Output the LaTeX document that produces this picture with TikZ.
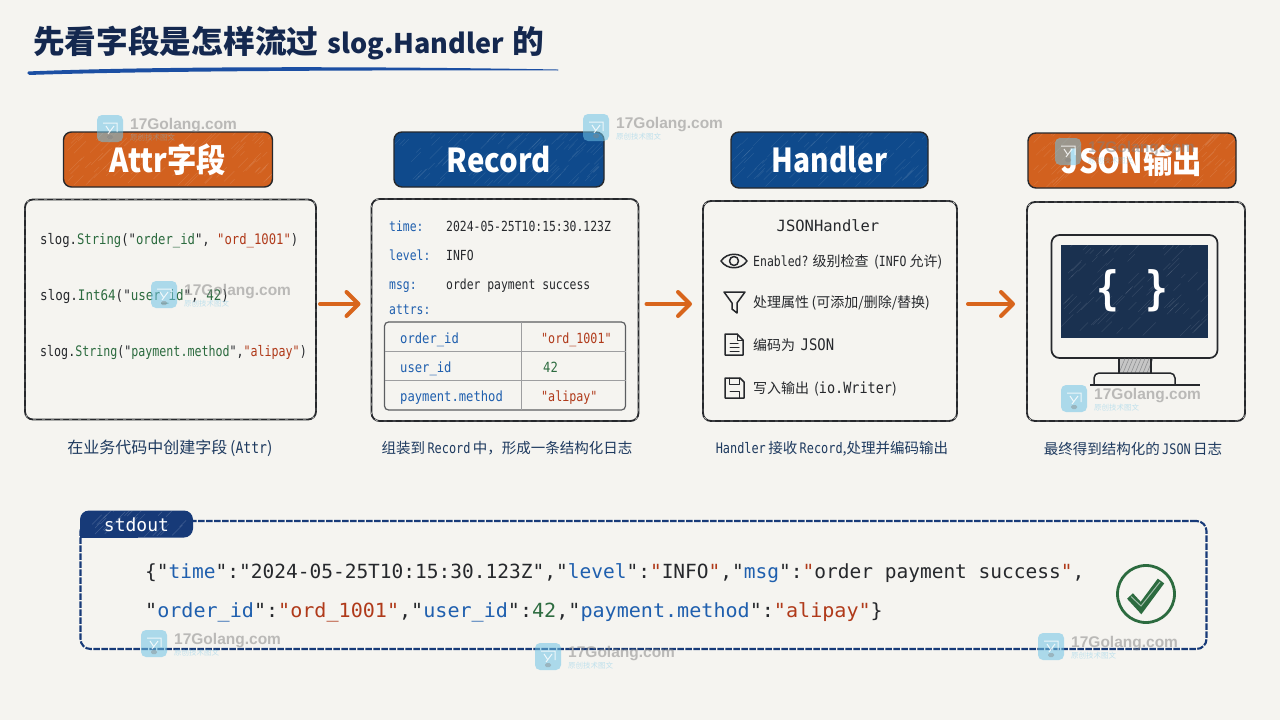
\documentclass[tikz,border=0pt]{standalone}
\usepackage{fontspec}
\usepackage{graphicx}
\usetikzlibrary{calc,arrows.meta,decorations.pathmorphing}
\setmainfont{Noto Sans CJK SC}
\newfontfamily\cjk{Noto Sans CJK SC}
\newfontfamily\headfont[FakeStretch=.89]{Noto Sans CJK SC}
\newfontfamily\codefont[FakeStretch=.82]{DejaVu Sans Mono}
\newfontfamily\tablefont[FakeStretch=.87]{DejaVu Sans Mono}
\newfontfamily\jsonfont{DejaVu Sans Mono}
\newfontfamily\markfont{Liberation Sans}
\definecolor{paper}{HTML}{F5F4F0}
\definecolor{ink}{HTML}{26282C}
\definecolor{titleink}{HTML}{14284F}
\definecolor{swoosh}{HTML}{1C4FA3}
\definecolor{orangehd}{HTML}{D2611F}
\definecolor{bluehd}{HTML}{0F4A8C}
\definecolor{navy}{HTML}{173A78}
\definecolor{capnavy}{HTML}{1E3A5F}
\definecolor{keyblue}{HTML}{1F5FAE}
\definecolor{strgreen}{HTML}{2C6B3F}
\definecolor{strred}{HTML}{B03A1A}
\definecolor{arrowor}{HTML}{D8651C}
\definecolor{screen}{HTML}{1A3150}
\definecolor{stampblue}{HTML}{6FC3E6}
\newcommand{\kb}[1]{\textcolor{keyblue}{#1}}
\newcommand{\gr}[1]{\textcolor{strgreen}{#1}}
\newcommand{\rd}[1]{\textcolor{strred}{#1}}
\newcommand{\fsz}[1]{\fontsize{#1}{#1}\selectfont}
% Short diagonal pen strokes scattered over a filled shape
\newcommand{\penstrokes}[2]{%
  \coordinate (psw) at (path picture bounding box.south west);
  \coordinate (pne) at (path picture bounding box.north east);
  \foreach \k in {1,...,#1}{%
    \pgfmathsetmacro\ra{rnd}\pgfmathsetmacro\rb{rnd}\pgfmathsetmacro\rc{4+9*rnd}
    \coordinate (pa) at ($(psw)!\ra!(psw -| pne)$);
    \coordinate (pb) at ($(psw)!\rb!(psw |- pne)$);
    \draw[white,opacity=#2,line width=.5pt] (pa |- pb) -- ++(\rc,-\rc);
  }}
% Site stamp: icon plus two lines of text
\newcommand{\stamp}[3]{%
  \begin{scope}[shift={(#2,#3)}]
    \fill[rounded corners=5pt,fill=stampblue,opacity=.55] (0,0) rectangle (26,27);
    \draw[white,opacity=.8,line width=1pt] (6,8) -- (20,8) -- (20,17) (9,11) -- (13,17) (17,11) -- (11,19);
    \fill[gray,opacity=.4,rounded corners=1.5pt] (10,20) rectangle (16,24);
    \node[anchor=west,inner sep=0pt,text=gray,opacity=.5,font=\markfont\bfseries\fsz{15.5}] (#1a) at (33,11) {17Golang.com};
    \node[anchor=west,inner sep=0pt,text=stampblue,opacity=.4,font=\cjk\fsz{7.5}] (#1b) at (33,23) {原创技术图文};
  \end{scope}}
\tikzset{
  boxcell/.style={rectangle,inner sep=0pt,outer sep=0pt},
  header/.style={boxcell,draw=ink,line width=1.4pt,rounded corners=8pt,text=white,
    font=\headfont\bfseries\fsz{33}},
  orangebar/.style={header,fill=orangehd,path picture={\penstrokes{110}{.11}}},
  bluebar/.style={header,fill=bluehd,path picture={\penstrokes{110}{.1}}},
  panel/.style={boxcell,draw=ink,line width=1.8pt,rounded corners=8pt,
    postaction={draw=paper,line width=.4pt,dash pattern=on 3pt off 6pt}},
  codeline/.style={anchor=base west,inner sep=0pt,text=ink,font=\codefont\fsz{14.5}},
  recline/.style={anchor=base west,inner sep=0pt,text=ink,font=\codefont\fsz{13.9}},
  cellline/.style={anchor=base west,inner sep=0pt,text=ink,font=\tablefont\fsz{14}},
  itemline/.style={anchor=base west,inner sep=0pt,text=ink,font=\cjk\fsz{14}},
  captionline/.style={anchor=base,inner sep=0pt,text=capnavy,font=\cjk\fsz{14.5}},
  jsonline/.style={anchor=base west,inner sep=0pt,text=ink,font=\jsonfont\fsz{19.5}},
  flowarrow/.style={draw=arrowor,line width=4pt,line cap=round,
    -{Straight Barb[length=12pt,width=24pt,line width=4pt,round]}},
  glyph/.style={draw=ink,line width=1.5pt,line join=round,line cap=round},
}
\begin{document}
\begin{tikzpicture}[x=1pt,y=-1pt]
\pgfmathsetseed{17}
\useasboundingbox[fill=paper] (0,0) rectangle (1280,720);

% Title and brush underline
\node[anchor=base west,inner sep=0pt,text=titleink,font=\cjk\bfseries\fsz{31.7}] (title) at (33,53)
  {先看字段是怎样流过\hspace{9pt}{\fsz{27}slog.Handler}\hspace{9pt}的};
\fill[swoosh,rounded corners=1.5pt] (27,71.5) .. controls (150,66.5) and (350,66) .. (558,69.5)
  -- (558,70.5) .. controls (350,70) and (150,71) .. (28,75) -- cycle;

% Column headers
\node[orangebar,minimum width=209pt,minimum height=55pt] (hattr) at (168,159.5) {Attr字段};
\node[bluebar,minimum width=210pt,minimum height=55pt] (hrec) at (499,159.5) {Record};
\node[bluebar,minimum width=197pt,minimum height=56pt] (hhand) at (829.5,160) {\scalebox{.96}[1]{Handler}};
\node[orangebar,minimum width=208pt,minimum height=55pt] (hjson) at (1132,160.5) {JSON输出};

% Panels
\node[panel,minimum width=291pt,minimum height=220pt] (attr) at (170.5,309.5) {};
\node[panel,minimum width=267pt,minimum height=222pt] (rec) at (505,310) {};
\node[panel,minimum width=254pt,minimum height=220pt] (hand) at (830,311) {};
\node[panel,minimum width=218pt,minimum height=219pt] (json) at (1136,311.5) {};

% Flow between panels
\coordinate (flowy) at (0,304);
\draw[flowarrow,shorten <=4pt,shorten >=11pt] (attr.east |- flowy) -- (rec.west |- flowy);
\draw[flowarrow,shorten <=8pt,shorten >=11pt] (rec.east |- flowy) -- (hand.west |- flowy);
\draw[flowarrow,shorten <=11pt,shorten >=12pt] (hand.east |- flowy) -- (json.west |- flowy);

% Attr panel code
\node[codeline] (c1) at (40,244) {\scalebox{1.03}[1]{slog.\gr{String}("\gr{order\_id}", \rd{"ord\_1001"})}};
\node[codeline] (c2) at (40,300) {\scalebox{1.055}[1]{slog.\gr{Int64}("\gr{user\_id}", \gr{42})}};
\node[codeline] (c3) at (40,356) {\scalebox{.98}[1]{slog.\gr{String}("\gr{payment.method}",\rd{"alipay"})}};

% Record panel fields
\node[recline,text=keyblue] (rk1) at (389,231) {time:};
\node[recline] (rv1) at (446,231) {2024-05-25T10:15:30.123Z};
\node[recline,text=keyblue] (rk2) at (389,260) {level:};
\node[recline] (rv2) at (446,260) {INFO};
\node[recline,text=keyblue] (rk3) at (389,289) {msg:};
\node[recline] (rv3) at (446,289) {order payment success};
\node[recline,text=keyblue] (rk4) at (389,314) {attrs:};

% Attribute table
\node[boxcell,draw=ink!75,line width=1.2pt,rounded corners=4pt,minimum width=241pt,minimum height=88pt] (tbl) at (505,366) {};
\coordinate (rowa) at (0,351.5);
\coordinate (rowb) at (0,380.5);
\coordinate (colx) at (521,0);
\draw[ink!45,line width=1pt] (tbl.west |- rowa) -- (tbl.east |- rowa);
\draw[ink!45,line width=1pt] (tbl.west |- rowb) -- (tbl.east |- rowb);
\draw[ink!45,line width=1pt] (colx |- tbl.north) -- (colx |- tbl.south);
\node[cellline,text=keyblue] (k1) at (400,343) {order\_id};
\node[cellline,text=strred] (v1) at (541,343) {\scalebox{.96}[1]{"ord\_1001"}};
\node[cellline,text=keyblue] (k2) at (400,372) {user\_id};
\node[cellline,text=strgreen] (v2) at (543,372) {42};
\node[cellline,text=keyblue] (k3) at (400,401) {payment.method};
\node[cellline,text=strred] (v3) at (541,401) {\scalebox{.96}[1]{"alipay"}};

% Handler panel
\node[anchor=base,inner sep=0pt,text=ink,font=\jsonfont\fsz{15.5}] (jh) at (828,231.5) {JSONHandler};
\node[itemline] (i1) at (753,266) {{\codefont Enabled?} 级别检查 \,({\codefont INFO} 允许)};
\node[itemline] (i2) at (753,307) {处理属性\,(可添加/删除/替换)};
\node[itemline] (i3) at (753,350) {编码为\, {\tablefont\fsz{16}JSON}};
\node[itemline] (i4) at (753,393) {写入输出\hspace{5pt}({\tablefont\fsz{15.5}io.Writer})};

% Eye
\draw[glyph] (721,261) .. controls (727,252) and (741,252) .. (747,261)
  .. controls (741,270) and (727,270) .. cycle;
\draw[glyph] (734,261) circle[radius=4.5];
% Funnel
\draw[glyph] (724,292) -- (745,292) -- (737,303) -- (737,313) -- (732,309) -- (732,303) -- cycle;
% Document
\draw[glyph] (725,334) -- (737,334) -- (743,340) -- (743,355) -- (725,355) -- cycle;
\draw[glyph,line width=1pt] (737,334) -- (737,340) -- (743,340);
\draw[glyph,line width=1pt] (730,343) -- (738,343) (730,347) -- (739,347) (730,351) -- (739,351);
% Floppy disk
\draw[glyph] (725,378) -- (740,378) -- (744,382) -- (744,398) -- (725,398) -- cycle;
\draw[glyph,line width=1pt] (729,378) -- (729,384) -- (739,384) -- (739,378);
\draw[glyph,line width=1pt] (730,391) -- (739,391) -- (739,398);

% Monitor
\node[boxcell,draw=ink,line width=1.7pt,rounded corners=8pt,minimum width=166pt,minimum height=123pt] (mon) at (1134.5,296.5) {};
\node[boxcell,fill=screen,minimum width=147pt,minimum height=93pt,path picture={\penstrokes{90}{.11}}] (scr) at (1134.5,291) {};
\node[inner sep=0pt,text=white,font=\codefont\bfseries\fsz{46}] (bl) at (1108,291) {\{};
\node[inner sep=0pt,text=white,font=\codefont\bfseries\fsz{46}] (br) at (1157,291) {\}};
\fill[gray!45] (1119,358.5) rectangle (1151,373);
\foreach \s in {0,4,...,28}{\draw[ink!55,line width=.5pt] (1119+\s,373) -- (1119+\s+6,358.5);}
\draw[ink,line width=1.4pt] (1119,358.5) -- (1119,373) (1151,358.5) -- (1151,373);
\draw[ink,line width=1.5pt,rounded corners=5pt] (1094,385) -- (1094,373) -- (1175,373) -- (1175,385);
\draw[ink,line width=1.5pt] (1090,385) -- (1200,385);

% Panel captions
\node[captionline,font=\cjk\fsz{16}] (cap1) at (170,453) {在业务代码中创建字段\,({\codefont Attr})};
\node[captionline] (cap2) at (507,453.5) {组装到\,{\codefont Record}\,中，形成一条结构化日志};
\node[captionline] (cap3) at (832,453.5) {{\codefont Handler}\,接收\,{\codefont Record},处理并编码输出};
\node[captionline] (cap4) at (1133,454) {最终得到结构化的\,{\codefont JSON}\,日志};

% Console output
\node[boxcell,draw=navy,line width=2.1pt,dash pattern=on 6.5pt off 1.5pt,rounded corners=10pt,minimum width=1126pt,minimum height=128pt] (out) at (643.5,585) {};
\path[fill=navy,rounded corners=9pt,path picture={\penstrokes{30}{.18}}] (80,538) -- (80,510.5) -- (193,510.5) -- (193,537.5) -- cycle;
\fill[navy] (80,525) rectangle (95,538);
\node[inner sep=0pt,text=white,font=\jsonfont\fsz{18}] (tab) at (136.5,525) {stdout};
\node[jsonline] (j1) at (145,578) {\{"\kb{time}":"2024-05-25T10:15:30.123Z","\kb{level}":\rd{"}INFO\rd{"},"\kb{msg}":\rd{"}order payment success\rd{"},};
\node[jsonline] (j2) at (145,617) {\scalebox{1.03}[1]{"\kb{order\_id}":\rd{"ord\_1001"},"\kb{user\_id}":\gr{42},"\kb{payment.method}":\rd{"alipay"}\}}};

% Success badge
\draw[strgreen,line width=2.8pt] (1146,594) circle[radius=28.5];
\draw[strgreen,line width=8pt,line join=miter] (1130,596) -- (1141,608) -- (1161,581);
\draw[strgreen!45,line width=1pt] (1131,596.5) -- (1141,606) -- (1160,582);

% Site stamps
\stamp{wa}{97}{115}
\stamp{wb}{583}{114}
\stamp{wc}{151}{281}
\stamp{wd}{1055}{138}
\stamp{we}{1061}{385}
\stamp{wf}{141}{630}
\stamp{wg}{535}{643}
\stamp{wh}{1038}{633}
\end{tikzpicture}
\end{document}
